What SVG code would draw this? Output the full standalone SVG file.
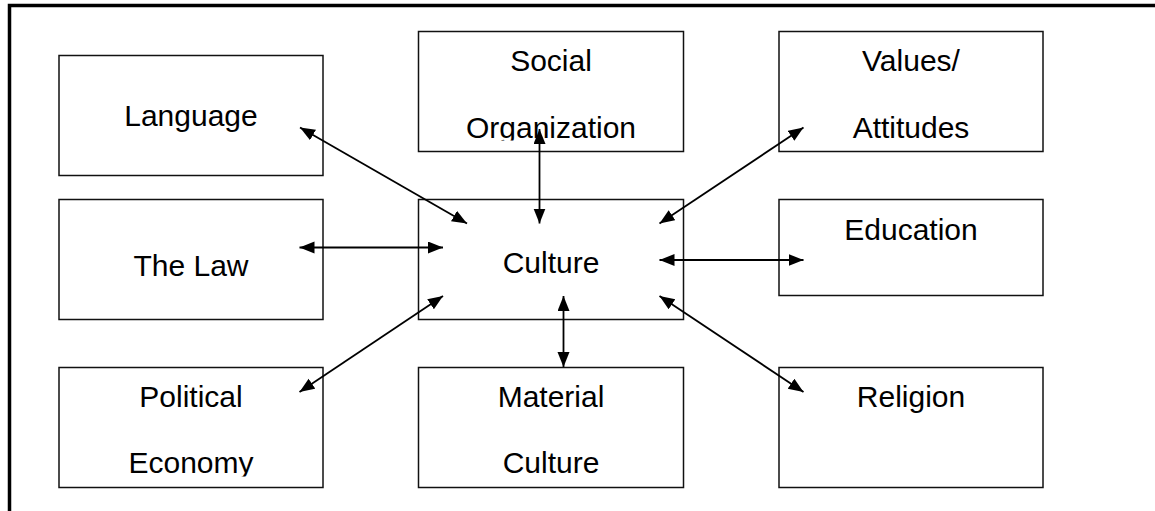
<svg xmlns="http://www.w3.org/2000/svg" width="1155" height="511" viewBox="0 0 1155 511">
  <style>
    .box { fill: #ffffff; stroke: #111111; stroke-width: 1.5; }
    .lbl { font-family: "Liberation Sans", Arial, sans-serif; font-size: 30px; fill: #000000; text-anchor: middle; }
    .link { stroke: #000000; stroke-width: 1.8; fill: none; marker-start: url(#head); marker-end: url(#head); }
  </style>
  <defs>
    <marker id="head" markerUnits="userSpaceOnUse" markerWidth="16" markerHeight="13" refX="15" refY="6" orient="auto-start-reverse">
      <path d="M0,0 L15,6 L0,12 Z" fill="#000000"/>
    </marker>
    <!-- text areas stop short of the box bottom, trimming descenders -->
    <clipPath id="clipTop"><rect x="0" y="30" width="1155" height="110.5"/></clipPath>
    <clipPath id="clipBottom"><rect x="0" y="366" width="1155" height="110.5"/></clipPath>
  </defs>

  <rect fill="#ffffff" width="1155" height="511"/>
  <!-- page frame -->
  <rect x="9.5" y="5.5" width="1300" height="700" fill="none" stroke="#000000" stroke-width="3.5"/>

  <g id="node-language">
    <rect class="box" x="59" y="55.5" width="264" height="120"/>
    <text class="lbl" x="191" y="126">Language</text>
  </g>

  <g id="node-social-organization">
    <rect class="box" x="418.5" y="31.5" width="265" height="120"/>
    <g clip-path="url(#clipTop)">
      <text class="lbl" x="551" y="71">Social</text>
      <text class="lbl" x="551" y="137.5">Organization</text>
    </g>
  </g>

  <g id="node-values-attitudes">
    <rect class="box" x="779" y="31.5" width="264" height="120"/>
    <text class="lbl" x="911" y="71">Values/</text>
    <text class="lbl" x="911" y="137.5">Attitudes</text>
  </g>

  <g id="node-the-law">
    <rect class="box" x="59" y="199.5" width="264" height="120"/>
    <text class="lbl" x="191" y="276">The Law</text>
  </g>

  <g id="node-culture">
    <rect class="box" x="418.5" y="199.5" width="265" height="120"/>
    <text class="lbl" x="551" y="272.5">Culture</text>
  </g>

  <g id="node-education">
    <rect class="box" x="779" y="199.5" width="264" height="96"/>
    <text class="lbl" x="911" y="239.5">Education</text>
  </g>

  <g id="node-political-economy">
    <rect class="box" x="59" y="367.5" width="264" height="120"/>
    <g clip-path="url(#clipBottom)">
      <text class="lbl" x="191" y="406.5">Political</text>
      <text class="lbl" x="191" y="473">Economy</text>
    </g>
  </g>

  <g id="node-material-culture">
    <rect class="box" x="418.5" y="367.5" width="265" height="120"/>
    <text class="lbl" x="551" y="406.5">Material</text>
    <text class="lbl" x="551" y="473">Culture</text>
  </g>

  <g id="node-religion">
    <rect class="box" x="779" y="367.5" width="264" height="120"/>
    <text class="lbl" x="911" y="406.5">Religion</text>
  </g>

  <g id="connectors">
    <line class="link" x1="300" y1="127.5" x2="467" y2="223.5"/>
    <line class="link" x1="539.5" y1="129" x2="539.5" y2="223.5"/>
    <line class="link" x1="803.5" y1="127.5" x2="659.5" y2="223.5"/>
    <line class="link" x1="299.5" y1="247.5" x2="443" y2="247.5"/>
    <line class="link" x1="659.5" y1="260" x2="803.5" y2="260"/>
    <line class="link" x1="299.5" y1="392" x2="443" y2="296"/>
    <line class="link" x1="563.5" y1="296" x2="563.5" y2="367"/>
    <line class="link" x1="659.5" y1="296" x2="803.5" y2="392"/>
  </g>
</svg>
